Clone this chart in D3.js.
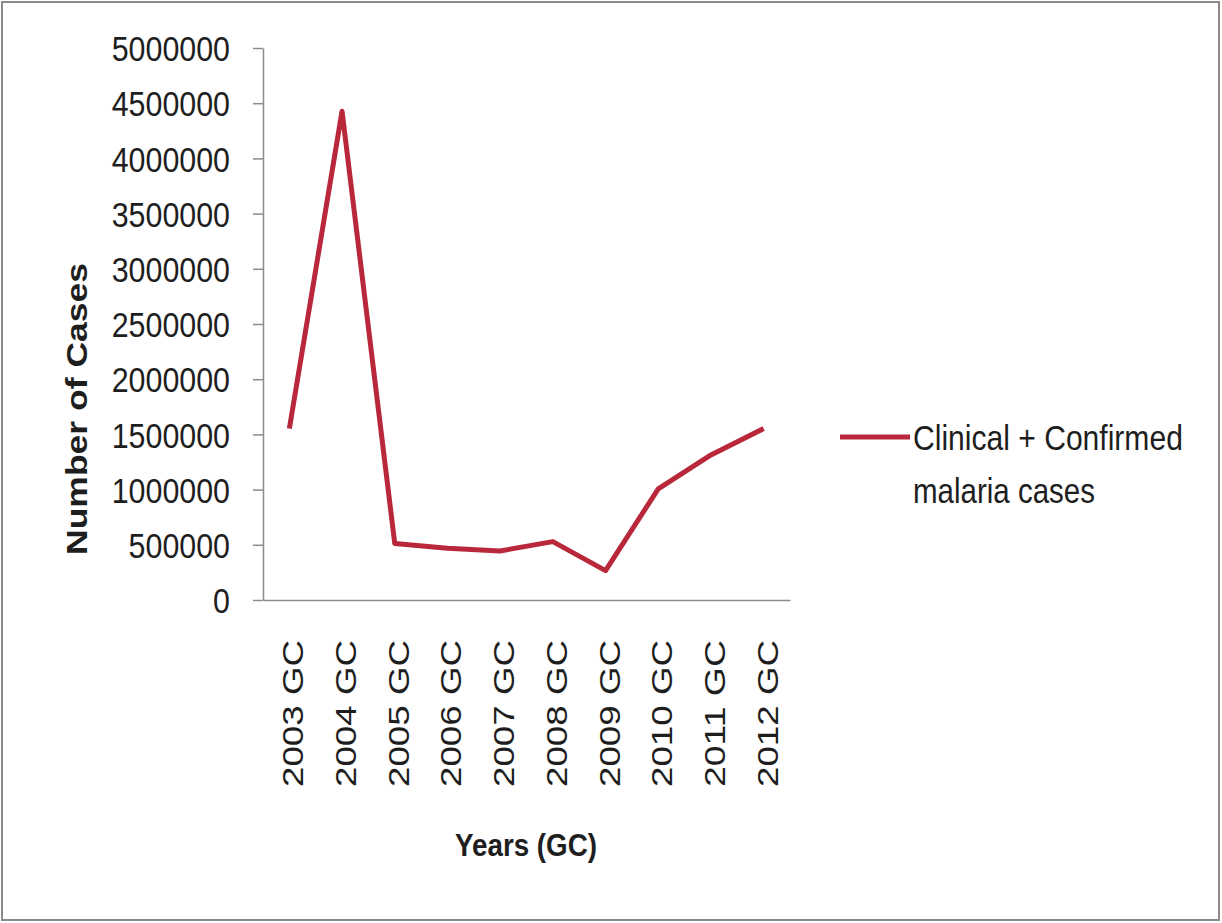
<!DOCTYPE html>
<html>
<head>
<meta charset="utf-8">
<script src="https://cdn.jsdelivr.net/npm/d3@7"></script>
<style>
  html, body { margin: 0; padding: 0; background: #fff; }
  svg { display: block; }
  text { font-family: "Liberation Sans", Arial, sans-serif; fill: #1e1e1e; }
</style>
</head>
<body>
<svg id="chart" width="1222" height="923"></svg>
<script>
// Reported malaria cases per year
const years = ["2003 GC", "2004 GC", "2005 GC", "2006 GC", "2007 GC",
               "2008 GC", "2009 GC", "2010 GC", "2011 GC", "2012 GC"];
const cases = [1553000, 4427000, 512000, 468000, 444000,
               529000, 266000, 1007000, 1314000, 1553000];
const yTicks = [0, 500000, 1000000, 1500000, 2000000, 2500000,
                3000000, 3500000, 4000000, 4500000, 5000000];
const seriesName = ["Clinical + Confirmed", "malaria cases"];

const svg = d3.select("#chart");
const lineColor = "#b8283a";
const axisColor = "#8c8c8c";

// outer frame
svg.append("rect")
  .attr("x", 2).attr("y", 2).attr("width", 1217).attr("height", 918)
  .attr("fill", "#fff").attr("stroke", "#8a8a8a").attr("stroke-width", 2);

const plot = { left: 263, right: 790, top: 48, bottom: 600 };

const x = d3.scaleBand().domain(years).range([plot.left, plot.right]);
const y = d3.scaleLinear().domain([0, 5000000]).range([plot.bottom, plot.top]);

// y axis: narrow numerals, right edge ~33px left of the axis line
const yAxis = svg.append("g")
  .attr("transform", `translate(${plot.left},0)`)
  .call(d3.axisLeft(y).tickValues(yTicks).tickSize(10).tickPadding(23)
        .tickFormat(d3.format("d")).tickSizeOuter(0));
yAxis.select(".domain").attr("stroke", axisColor).attr("stroke-width", 1.5);
yAxis.selectAll(".tick line").attr("stroke", axisColor).attr("stroke-width", 1.5);
yAxis.selectAll(".tick text")
  .attr("font-size", 35).attr("fill", "#1e1e1e")
  .attr("font-family", "Liberation Sans, Arial, sans-serif")
  .attr("dy", "0.36em")
  .attr("lengthAdjust", "spacingAndGlyphs")
  .attr("textLength", d => String(d3.format("d")(d)).length * 16.9);

// x axis: vertical year labels
const xAxis = svg.append("g")
  .attr("transform", `translate(0,${plot.bottom})`)
  .call(d3.axisBottom(x).tickSize(0).tickSizeOuter(0).tickPadding(0));
xAxis.select(".domain").attr("stroke", axisColor).attr("stroke-width", 1.5);
xAxis.selectAll(".tick text")
  .attr("font-size", 30).attr("fill", "#1e1e1e")
  .attr("font-family", "Liberation Sans, Arial, sans-serif")
  .attr("text-anchor", "end")
  .attr("transform", "rotate(-90)")
  .attr("x", -40).attr("y", 0).attr("dy", 14)
  .attr("lengthAdjust", "spacingAndGlyphs")
  .attr("textLength", 147);

// data line
const line = d3.line()
  .x((d, i) => x(years[i]) + x.bandwidth() / 2)
  .y(d => y(d));
svg.append("path")
  .datum(cases)
  .attr("d", line)
  .attr("fill", "none")
  .attr("stroke", lineColor)
  .attr("stroke-width", 5)
  .attr("stroke-linejoin", "round");

// axis titles
svg.append("text")
  .attr("transform", "translate(87,409) rotate(-90)")
  .attr("text-anchor", "middle")
  .attr("font-size", 29).attr("font-weight", "bold")
  .attr("lengthAdjust", "spacingAndGlyphs").attr("textLength", 292)
  .text("Number of Cases");

svg.append("text")
  .attr("x", 526).attr("y", 856)
  .attr("text-anchor", "middle")
  .attr("font-size", 31).attr("font-weight", "bold")
  .attr("lengthAdjust", "spacingAndGlyphs").attr("textLength", 142)
  .text("Years (GC)");

// legend: two-line label, condensed horizontally to its target width
const legendWidths = [270, 182];
const legend = svg.append("g");
legend.append("line")
  .attr("x1", 840).attr("x2", 910).attr("y1", 437).attr("y2", 437)
  .attr("stroke", lineColor).attr("stroke-width", 5);
legend.selectAll("text.entry")
  .data(seriesName)
  .join("text")
  .attr("class", "entry")
  .attr("font-size", 36)
  .text(d => d)
  .attr("transform", function (d, i) {
    const natural = this.getComputedTextLength();
    const sx = legendWidths[i] / natural;
    return `translate(913,${450 + i * 53}) scale(${sx},1)`;
  });
</script>
</body>
</html>
